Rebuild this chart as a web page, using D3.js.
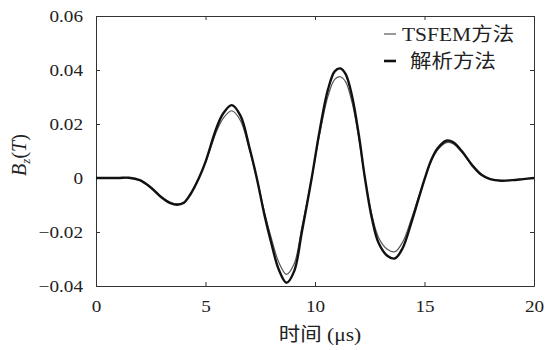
<!DOCTYPE html>
<html>
<head>
<meta charset="utf-8">
<script src="https://cdn.jsdelivr.net/npm/d3@7"></script>
<style>
  html, body { margin: 0; padding: 0; background: #fff; }
  svg { display: block; }
  text { font-family: "Liberation Serif", "Times New Roman", Tinos, "DejaVu Serif", serif, "Noto Sans CJK SC"; fill: #222; }
</style>
</head>
<body>
<svg id="chart" width="549" height="350"></svg>
<script>
// Time samples (µs)
const time = [0, 1.0, 1.5, 2.0, 2.5, 3.0, 3.4, 3.7, 4.0, 4.3, 4.7, 5.0, 5.5, 5.8, 6.2, 6.6, 7.0, 7.34,
  7.7, 8.0, 8.35, 8.7, 9.05, 9.4, 9.85, 10.2, 10.6, 10.9, 11.15, 11.4, 11.7, 12.0, 12.28, 12.6, 12.9,
  13.3, 13.65, 14.0, 14.4, 14.7, 15.0, 15.3, 15.6, 16.0, 16.3, 16.7, 17.2, 17.6, 18.0, 18.5, 19.0, 19.5, 20];

// Bz (T) from the analytical solution
const analytic = [0, 0, 0.0001, -0.0008, -0.0035, -0.0072, -0.0093, -0.0099, -0.0093, -0.0062, 0.0, 0.0060,
  0.0185, 0.0238, 0.0270, 0.0230, 0.0115, 0.0, -0.0140, -0.0240, -0.0340, -0.0388, -0.0345, -0.0200, 0.0,
  0.0170, 0.0330, 0.0395, 0.0406, 0.0385, 0.0300, 0.0160, 0.0, -0.0150, -0.0240, -0.0288, -0.0298, -0.0260,
  -0.0165, -0.0085, -0.0005, 0.0065, 0.0110, 0.0138, 0.0133, 0.0100, 0.0045, 0.0012, -0.0004, -0.0010, -0.0008,
  -0.0004, 0];

// Bz (T) from the TSFEM computation
const tsfem = [0, 0, 0.0001, -0.0008, -0.0034, -0.0070, -0.0090, -0.0096, -0.0090, -0.0060, 0.0, 0.0056,
  0.0172, 0.0220, 0.0249, 0.0212, 0.0106, 0.0, -0.0129, -0.0221, -0.0313, -0.0357, -0.0318, -0.0184, 0.0,
  0.0157, 0.0305, 0.0365, 0.0375, 0.0356, 0.0277, 0.0148, 0.0, -0.0138, -0.0220, -0.0264, -0.0273, -0.0238,
  -0.0152, -0.0078, -0.0005, 0.0061, 0.0104, 0.0131, 0.0127, 0.0096, 0.0043, 0.0011, -0.0004, -0.0010, -0.0008,
  -0.0004, 0];

const xTicks = [0, 5, 10, 15, 20];
const yTicks = [-0.04, -0.02, 0, 0.02, 0.04, 0.06];
const yTickLabels = ["\u22120.04", "\u22120.02", "0", "0.02", "0.04", "0.06"];
const legendLabels = ["TSFEM方法", "解析方法"];

const svg = d3.select("#chart");
const plotLeft = 96, plotRight = 534, plotTop = 16, plotBottom = 286;

const x = d3.scaleLinear().domain([0, 20]).range([plotLeft, plotRight]);
const y = d3.scaleLinear().domain([-0.04, 0.06]).range([plotBottom, plotTop]);

const tickLen = 4;
const tickFont = 17;
const stretch = 1.13;   // slightly wide type

// Turn a text's x/y into a translate so it can be widened in place
function widen(sel) {
  sel.each(function () {
    const t = d3.select(this);
    const tx = +t.attr("x") || 0, ty = +t.attr("y") || 0;
    t.attr("transform", `translate(${tx},${ty}) scale(${stretch},1)`).attr("x", null).attr("y", null);
  });
}

// Axes with inward ticks on all four sides
const axisStyle = g => {
  g.attr("font-family", null).attr("font-size", null);
  g.select(".domain").attr("stroke", "#333").attr("stroke-width", 1);
  g.selectAll(".tick line").attr("stroke", "#333").attr("stroke-width", 1);
  g.selectAll("text").attr("font-size", tickFont).attr("fill", "#222").call(widen);
};

svg.append("g").attr("transform", `translate(0,${plotBottom})`)
  .call(d3.axisBottom(x).tickValues(xTicks).tickFormat(d3.format("d"))
    .tickSizeInner(-tickLen).tickSizeOuter(0).tickPadding(14))
  .call(axisStyle);

svg.append("g").attr("transform", `translate(0,${plotTop})`)
  .call(d3.axisTop(x).tickValues(xTicks).tickFormat("")
    .tickSizeInner(-tickLen).tickSizeOuter(0))
  .call(axisStyle);

svg.append("g").attr("transform", `translate(${plotLeft},0)`)
  .call(d3.axisLeft(y).tickValues(yTicks).tickFormat((d, i) => yTickLabels[i])
    .tickSizeInner(-tickLen).tickSizeOuter(0).tickPadding(13))
  .call(axisStyle);

svg.append("g").attr("transform", `translate(${plotRight},0)`)
  .call(d3.axisRight(y).tickValues(yTicks).tickFormat("")
    .tickSizeInner(-tickLen).tickSizeOuter(0))
  .call(axisStyle);

// Curves
const line = d3.line().x(d => x(d[0])).y(d => y(d[1])).curve(d3.curveCatmullRom.alpha(0.5));

svg.append("path").datum(d3.zip(time, tsfem))
  .attr("d", line).attr("fill", "none").attr("stroke", "#555").attr("stroke-width", 1.2);

svg.append("path").datum(d3.zip(time, analytic))
  .attr("d", line).attr("fill", "none").attr("stroke", "#111").attr("stroke-width", 2.4);

// Legend
const legend = svg.append("g");
const legendRows = [
  { label: legendLabels[0], color: "#555", width: 1.2, yPos: 34, textX: 402 },
  { label: legendLabels[1], color: "#111", width: 2.6, yPos: 61, textX: 410 }
];
legendRows.forEach(r => {
  legend.append("line").attr("x1", 384).attr("x2", 396).attr("y1", r.yPos).attr("y2", r.yPos)
    .attr("stroke", r.color).attr("stroke-width", r.width);
  legend.append("text").attr("x", r.textX).attr("y", r.yPos).attr("dy", "0.35em")
    .attr("font-size", 19).text(r.label).call(widen);
});

// Axis titles
svg.append("text").attr("x", 320).attr("y", 341).attr("text-anchor", "middle")
  .attr("font-size", 19).text("时间 (μs)").call(widen);

const yTitle = svg.append("text")
  .attr("transform", `translate(26,155) rotate(-90)`)
  .attr("text-anchor", "middle").attr("font-size", 20);
yTitle.append("tspan").attr("font-style", "italic").text("B");
yTitle.append("tspan").attr("font-style", "italic").attr("font-size", 13).attr("dy", 4).text("z");
yTitle.append("tspan").attr("dy", -4).text("(");
yTitle.append("tspan").attr("font-style", "italic").text("T");
yTitle.append("tspan").text(")");
</script>
</body>
</html>
